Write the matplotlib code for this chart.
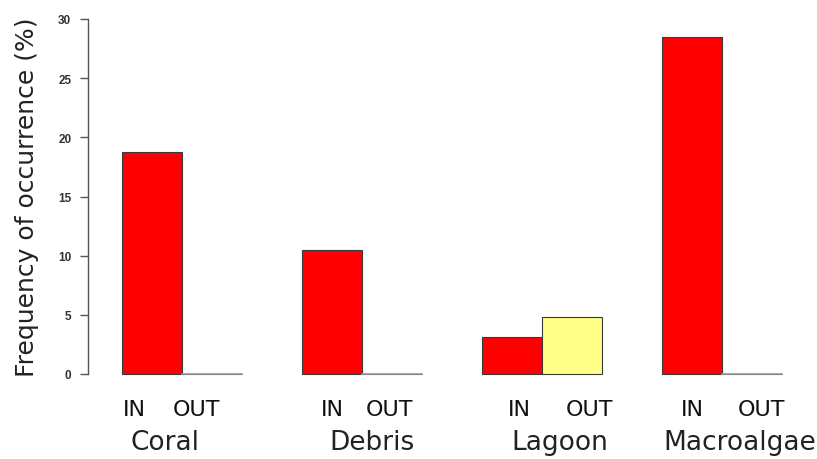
import matplotlib
matplotlib.use("Agg")
import matplotlib.pyplot as plt
import numpy as np

categories = ["Coral", "Debris", "Lagoon", "Macroalgae"]
sites = ["IN", "OUT"]
in_values = [18.8, 10.5, 3.1, 28.5]
out_values = [0.0, 0.0, 4.8, 0.0]
yticks = [0, 5, 10, 15, 20, 25, 30]

W, H = 817, 460
PX = 60.0  # pixels per bar width
fig = plt.figure(figsize=(W / 100, H / 100), dpi=100)
ax = fig.add_axes([88 / W, (H - 375) / H, 1 - 88 / W, (375 - 20) / H])

g = np.arange(len(categories)) * 3
in_x = g + 0.5
out_x = g + 1.5
ax.bar(in_x, in_values, width=1.0, color="#ff0000", edgecolor="#3a3a3a", linewidth=0.8, clip_on=False)
ax.bar(out_x, out_values, width=1.0, color="#ffff88", edgecolor="#3a3a3a", linewidth=0.8, clip_on=False)
for x, v in zip(out_x, out_values):
    if v == 0:
        ax.plot([x - 0.5, x + 0.5], [0, 0], color="#999999", lw=1.2, clip_on=False)

ax.set_xlim(-34 / PX, (817 - 122) / PX)
ax.set_ylim(0, 30)
for s in ["top", "right", "bottom"]:
    ax.spines[s].set_visible(False)
ax.spines["left"].set_color("#555555")
ax.spines["left"].set_linewidth(1.0)
ax.set_yticks(yticks)
ax.set_yticklabels([str(t) for t in yticks], fontsize=8.5, family="Liberation Sans",
                   fontweight="bold", color="#333333")
ax.tick_params(axis="y", length=6, width=1.0, color="#555555", pad=6)
ax.set_xticks([])

fig.text(27 / W, 1 - 197 / H, "Frequency of occurrence (%)", rotation=90, ha="center", va="center",
         fontsize=18, family="DejaVu Sans", color="#222222")

# label offsets (pixels) relative to bar / group centres, as in the reference layout
in_off = [-17.5, 0.5, 7.5, 0.5]
out_off = [-15, -2.5, 17.5, 9.5]
cat_off = [-17, 10, 18, 18]

trans = ax.get_xaxis_transform()
for i, cat in enumerate(categories):
    ax.text(in_x[i] + in_off[i] / PX, -35 / 355, sites[0], transform=trans, ha="center", va="center",
            fontsize=16, family="DejaVu Sans", color="#111111")
    ax.text(out_x[i] + out_off[i] / PX, -35 / 355, sites[1], transform=trans, ha="center", va="center",
            fontsize=16, family="DejaVu Sans", color="#111111")
    ax.text(g[i] + 1.0 + cat_off[i] / PX, -68 / 355, cat, transform=trans, ha="center", va="center",
            fontsize=19, family="DejaVu Sans", color="#222222")

fig.savefig("out.png", dpi=100)
